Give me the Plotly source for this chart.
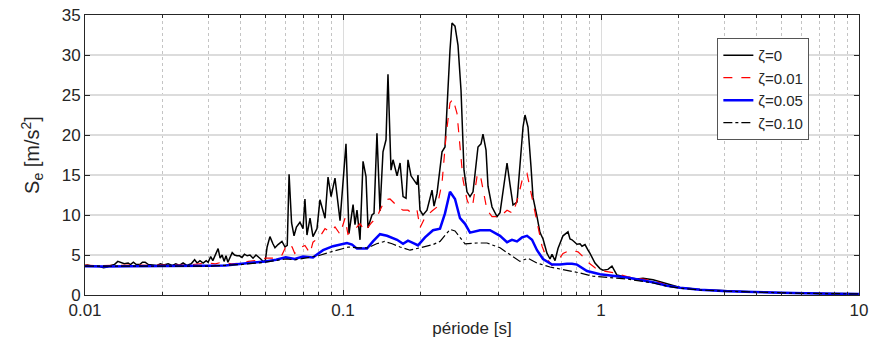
import plotly.graph_objects as go

# ---- data: period T [s] and spectral acceleration Se [m/s^2] ----
T0 = [0.0100, 0.0102, 0.0105, 0.0110, 0.0114, 0.0118, 0.0122, 0.0126, 0.0130, 0.0134,
      0.0138, 0.0142, 0.0147, 0.0150, 0.0154, 0.0158, 0.0163, 0.0167, 0.0171, 0.0176,
      0.0183, 0.0190, 0.0196, 0.0202, 0.0210, 0.0218, 0.0225, 0.0232, 0.0240, 0.0248,
      0.0258, 0.0266, 0.0272, 0.0279, 0.0287, 0.0295, 0.0300, 0.0307, 0.0313, 0.0320,
      0.0328, 0.0334, 0.0340, 0.0346, 0.0352, 0.0358, 0.0365, 0.0372, 0.0380, 0.0388,
      0.0397, 0.0406, 0.0415, 0.0425, 0.0436, 0.0448, 0.0460, 0.0470, 0.0480, 0.0490,
      0.0500, 0.0508, 0.0521, 0.0535, 0.0545, 0.0560, 0.0580, 0.0596, 0.0608, 0.0618,
      0.0632, 0.0646, 0.0660, 0.0681, 0.0700, 0.0712, 0.0725, 0.0745, 0.0765, 0.0793,
      0.0814, 0.0852, 0.0875, 0.0899, 0.0931, 0.0974, 0.1027, 0.1055, 0.1094, 0.1113,
      0.1133, 0.1164, 0.1196, 0.1228, 0.1250, 0.1295, 0.1319, 0.1354, 0.1391, 0.1429,
      0.1468, 0.1494, 0.1535, 0.1563, 0.1620, 0.1664, 0.1709, 0.1755, 0.1786, 0.1835,
      0.1885, 0.1936, 0.1953, 0.1988, 0.2042, 0.2116, 0.2213, 0.2253, 0.2314, 0.2420,
      0.2485, 0.2530, 0.2598, 0.2645, 0.2717, 0.2791, 0.2867, 0.2944, 0.3024, 0.3106,
      0.3191, 0.3248, 0.3336, 0.3427, 0.3488, 0.3584, 0.3648, 0.3781, 0.3954, 0.4061,
      0.4171, 0.4323, 0.4440, 0.4560, 0.4725, 0.4853, 0.4986, 0.5075, 0.5213, 0.5355,
      0.5451, 0.5649, 0.5803, 0.5961, 0.6177, 0.6345, 0.6459, 0.6634, 0.6813, 0.7124,
      0.7449, 0.7583, 0.7720, 0.8072, 0.8291, 0.8440, 0.8670, 0.8905, 0.9066, 0.9478,
      0.9911, 1.018, 1.064, 1.103, 1.153, 1.261, 1.379, 1.455, 1.591, 1.803,
      2.024, 2.42, 3.08, 4.13, 5.55, 7.72, 10.0]
S0 = [3.70, 3.75, 3.65, 3.60, 3.55, 3.40, 3.50, 3.70, 3.80, 4.20,
      4.00, 3.90, 4.00, 3.80, 4.10, 3.80, 3.80, 4.10, 4.10, 3.80,
      3.75, 3.70, 3.90, 3.75, 3.90, 3.70, 3.90, 3.70, 4.00, 3.70,
      3.90, 4.40, 4.00, 4.30, 4.00, 4.30, 4.10, 4.80, 4.30, 5.10,
      5.80, 4.60, 5.00, 4.20, 4.90, 4.10, 4.80, 5.30, 5.00, 4.90,
      4.90, 4.70, 5.10, 4.90, 5.00, 4.60, 5.00, 4.80, 4.50, 4.20,
      4.30, 6.00, 7.30, 6.40, 5.90, 6.30, 6.70, 6.00, 6.20, 15.1,
      9.00, 7.40, 8.50, 9.10, 8.30, 12.0, 7.50, 9.60, 7.30, 8.30,
      11.9, 9.60, 14.75, 12.3, 14.6, 9.30, 18.9, 7.70, 11.3, 8.80,
      10.6, 6.90, 16.7, 14.8, 8.40, 10.0, 10.2, 20.2, 10.5, 17.9,
      19.4, 27.6, 15.6, 16.9, 14.9, 16.5, 12.3, 12.1, 16.9, 14.9,
      14.3, 13.8, 15.0, 10.6, 10.0, 10.6, 13.1, 11.1, 12.7, 17.9,
      18.5, 24.0, 30.6, 34.0, 33.6, 31.2, 25.6, 15.6, 12.9, 12.3,
      12.9, 15.1, 18.5, 18.9, 20.1, 18.1, 13.6, 11.0, 9.80, 10.3,
      12.9, 16.5, 13.8, 11.25, 11.6, 16.5, 21.0, 22.5, 21.0, 16.0,
      12.2, 9.80, 7.80, 7.00, 5.20, 4.50, 5.10, 4.30, 5.80, 7.40,
      7.90, 7.00, 6.90, 6.35, 6.40, 6.10, 6.30, 5.60, 5.20, 4.00,
      3.30, 3.10, 3.20, 3.60, 2.50, 2.20, 2.00, 2.10, 1.90, 1.40,
      0.95, 0.70, 0.50, 0.35, 0.25, 0.18, 0.15]

T1 = [0.0100, 0.0110, 0.0130, 0.0150, 0.0180, 0.0200, 0.0250, 0.0280, 0.0300, 0.0320,
      0.0340, 0.0370, 0.0400, 0.0430, 0.0460, 0.0500, 0.0540, 0.0580, 0.0607, 0.0635,
      0.0650, 0.0680, 0.0712, 0.0745, 0.0765, 0.0814, 0.0852, 0.0891, 0.0931, 0.0974,
      0.1018, 0.1045, 0.1094, 0.1164, 0.1217, 0.1295, 0.1354, 0.1391, 0.1455, 0.1521,
      0.1591, 0.1664, 0.1709, 0.1786, 0.1851, 0.1936, 0.1988, 0.2079, 0.2213, 0.2314,
      0.2420, 0.2507, 0.2598, 0.2669, 0.2766, 0.2841, 0.2919, 0.3024, 0.3106, 0.3191,
      0.3307, 0.3396, 0.3488, 0.3616, 0.3781, 0.4061, 0.4323, 0.4560, 0.4768, 0.4986,
      0.5167, 0.5403, 0.5649, 0.5907, 0.6177, 0.6459, 0.6753, 0.7124, 0.7583, 0.8144,
      0.8516, 0.8905, 0.9478, 1.018, 1.113, 1.261, 1.591, 1.803, 2.024, 2.42,
      3.08, 4.13, 5.55, 7.72, 10.0]
S1 = [3.75, 3.65, 3.70, 3.75, 3.70, 3.75, 3.75, 3.90, 4.00, 3.90,
      4.10, 3.90, 4.00, 4.20, 4.30, 4.60, 4.60, 5.00, 6.40, 6.00,
      5.20, 5.90, 6.20, 5.20, 6.60, 7.30, 8.30, 7.90, 8.50, 7.60,
      9.60, 7.60, 8.00, 8.90, 8.00, 9.10, 9.70, 10.6, 11.9, 12.0,
      11.4, 10.8, 10.6, 10.6, 10.2, 10.6, 8.40, 9.70, 10.5, 11.0,
      14.0, 19.8, 24.0, 24.5, 22.7, 18.1, 14.4, 11.9, 11.0, 11.5,
      14.8, 15.2, 13.1, 10.6, 9.80, 9.80, 10.6, 10.2, 12.2, 14.8,
      15.2, 12.2, 9.00, 6.10, 4.50, 3.70, 4.10, 5.20, 5.60, 5.40,
      4.80, 4.10, 3.40, 3.00, 2.80, 2.30, 1.80, 1.25, 0.90, 0.65,
      0.50, 0.35, 0.25, 0.18, 0.15]

T5 = [0.0100, 0.0120, 0.0150, 0.0200, 0.0250, 0.0300, 0.0350, 0.0400, 0.0450, 0.0500,
      0.0550, 0.0600, 0.0630, 0.0650, 0.0700, 0.0765, 0.0837, 0.0915, 0.1036, 0.1084,
      0.1133, 0.1239, 0.1307, 0.1391, 0.1481, 0.1620, 0.1709, 0.1786, 0.1901, 0.1953,
      0.2079, 0.2233, 0.2377, 0.2485, 0.2598, 0.2717, 0.2841, 0.2971, 0.3106, 0.3396,
      0.3714, 0.4061, 0.4323, 0.4519, 0.4725, 0.4941, 0.5167, 0.5403, 0.5649, 0.5961,
      0.6459, 0.6936, 0.7383, 0.7720, 0.8072, 0.8826, 0.9911, 1.064, 1.261, 1.591,
      1.803, 2.024, 2.42, 3.08, 4.13, 5.55, 7.72, 10.0]
S5 = [3.60, 3.55, 3.60, 3.60, 3.60, 3.65, 3.70, 3.85, 4.05, 4.20,
      4.40, 4.70, 4.60, 4.50, 4.80, 4.70, 5.60, 6.10, 6.50, 6.30,
      5.80, 5.80, 6.70, 7.60, 7.40, 6.90, 6.40, 6.80, 6.40, 6.20,
      7.20, 8.10, 8.30, 10.2, 12.9, 12.0, 9.60, 8.90, 7.80, 8.10,
      8.10, 7.40, 6.60, 6.90, 6.70, 7.20, 7.40, 6.90, 5.60, 4.50,
      3.80, 3.80, 3.90, 3.90, 3.80, 3.00, 2.60, 2.50, 2.20, 1.60,
      1.15, 0.90, 0.65, 0.48, 0.33, 0.24, 0.17, 0.14]

T10 = [0.0100, 0.0150, 0.0200, 0.0300, 0.0400, 0.0500, 0.0600, 0.0650, 0.0700, 0.0800,
       0.0900, 0.1000, 0.1050, 0.1150, 0.1250, 0.1350, 0.1450, 0.1550, 0.1664, 0.1819,
       0.1988, 0.2233, 0.2377, 0.2598, 0.2717, 0.2971, 0.3307, 0.3616, 0.4061, 0.4323,
       0.4853, 0.5213, 0.5649, 0.6345, 0.7383, 0.8291, 0.9311, 1.018, 1.261, 1.591,
       1.803, 2.024, 2.42, 3.08, 4.13, 5.55, 7.72, 10.0]
S10 = [3.60, 3.55, 3.60, 3.60, 3.80, 4.10, 4.50, 4.40, 4.60, 4.90,
       5.40, 5.80, 6.00, 5.90, 5.90, 6.40, 6.70, 6.40, 6.00, 5.60,
       5.90, 6.30, 6.70, 8.20, 8.00, 6.40, 6.50, 6.50, 5.90, 5.30,
       4.20, 4.60, 4.00, 3.50, 3.10, 2.75, 2.35, 2.25, 2.00, 1.50,
       1.10, 0.85, 0.62, 0.47, 0.32, 0.23, 0.17, 0.14]

x_tickvals = [0.01, 0.1, 1, 10]
x_ticktext = ["0.01", "0.1", "1", "10"]
x_minor_vals = [m * d for d in (0.01, 0.1, 1) for m in range(2, 10)]
y_tickvals = [0, 5, 10, 15, 20, 25, 30, 35]

FONT = "Liberation Sans, Arial, Helvetica, sans-serif"
AX = "#262626"

fig = go.Figure()
fig.add_trace(go.Scatter(x=T0, y=S0, mode="lines", name="ζ=0",
                         line=dict(color="black", width=1.5)))
fig.add_trace(go.Scatter(x=T1, y=S1, mode="lines", name="ζ=0.01",
                         line=dict(color="#ff0000", width=1.2, dash="dash")))
fig.add_trace(go.Scatter(x=T5, y=S5, mode="lines", name="ζ=0.05",
                         line=dict(color="#0000ff", width=2.5)))
fig.add_trace(go.Scatter(x=T10, y=S10, mode="lines", name="ζ=0.10",
                         line=dict(color="black", width=1.2, dash="dashdot")))

fig.update_layout(
    width=872, height=347,
    margin=dict(l=85, r=13, t=15, b=52),
    paper_bgcolor="white", plot_bgcolor="white",
    font=dict(family=FONT, size=17, color=AX),
    showlegend=True,
    legend=dict(x=0.817, y=0.918, xanchor="left", yanchor="top",
                bgcolor="white", bordercolor="#555555", borderwidth=1,
                font=dict(size=15, color=AX), tracegroupgap=0,
                itemwidth=30),
)
fig.update_xaxes(
    type="log", range=[-2, 1], automargin=False,
    tickmode="array", tickvals=x_tickvals, ticktext=x_ticktext,
    ticklabeloverflow="allow",
    showline=True, linecolor=AX, linewidth=1, mirror="ticks",
    ticks="inside", ticklen=5, tickcolor=AX,
    showgrid=True, gridcolor="#dcdcdc", gridwidth=1,
    minor=dict(tickmode="array", tickvals=x_minor_vals,
               showgrid=True, gridcolor="#c4c4c4", griddash="dot",
               ticks="inside", ticklen=3, tickcolor=AX),
    zeroline=False,
    title=dict(text="période [s]", font=dict(size=17, color=AX), standoff=2),
)
fig.update_yaxes(
    range=[0, 35], tickvals=y_tickvals, automargin=False,
    ticklabeloverflow="allow",
    showline=True, linecolor=AX, linewidth=1, mirror="ticks",
    ticks="inside", ticklen=5, tickcolor=AX,
    showgrid=True, gridcolor="#dcdcdc", gridwidth=1.5,
    zeroline=False,
    title=dict(text="S<sub>e</sub> [m/s<sup>2</sup>]", font=dict(size=20, color=AX), standoff=16),
)

# remove the default 8px page margin so the figure sits at the window's top-left corner
fig.write_html("out.html", config={"displayModeBar": False},
               post_script="document.body.style.margin='0';")
